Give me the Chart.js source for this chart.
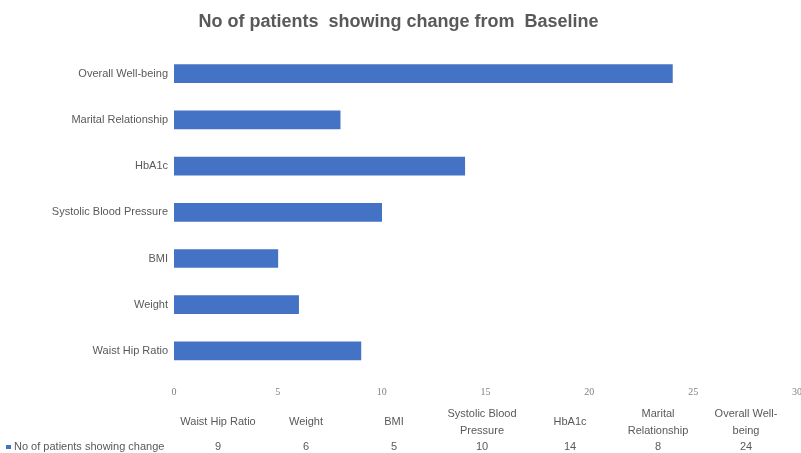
<!DOCTYPE html>
<html>
<head>
<meta charset="utf-8">
<script src="https://cdn.jsdelivr.net/npm/chart.js@4/dist/chart.umd.min.js"></script>
<style>
    html, body { margin: 0; padding: 0; background: #ffffff; }
    #wrap { width: 801px; height: 453px; }
</style>
</head>
<body>
<div id="wrap"><canvas id="chart" width="801" height="453"></canvas></div>
<script>
//Данные графика
const categories = ["Waist Hip Ratio", "Weight", "BMI", "Systolic Blood Pressure", "HbA1c", "Marital Relationship", "Overall Well-being"];
const seriesName = "No of patients showing change";
const seriesValues = [9, 6, 5, 10, 14, 8, 24];
const xTicks = [0, 5, 10, 15, 20, 25, 30];

const BAR_COLOR = "#4472C4";
const TEXT_COLOR = "#595959";

//Перенос подписи по ширине (по пробелам и после дефиса)
const wrapText = (ctx, text, maxWidth) => {
    const parts = text.match(/[^\s-]+-?/g) || [text];
    const lines = [];
    let line = "";
    parts.forEach(p => {
        const sep = line && !line.endsWith("-") ? " " : "";
        const test = line + sep + p;
        if (line && ctx.measureText(test).width > maxWidth) {
            lines.push(line);
            line = p;
        } else line = test;
    });
    if (line) lines.push(line);
    return lines;
};

//Таблица данных под графиком
const dataTablePlugin = {
    id: "dataTable",
    afterDraw(chart) {
        const { ctx } = chart;
        const left = 174, right = 790;
        const colW = (right - left) / categories.length;
        ctx.save();
        ctx.fillStyle = TEXT_COLOR;
        ctx.textAlign = "center";
        ctx.textBaseline = "middle";
        ctx.font = "11px 'Liberation Sans', Arial, sans-serif";
        categories.forEach((c, i) => {
            const cx = left + colW * (i + 0.5);
            const lines = wrapText(ctx, c, colW - 6);
            const y0 = lines.length > 1 ? 414 : 422;
            lines.forEach((l, j) => ctx.fillText(l, cx, y0 + j * 17));
            ctx.fillText(String(seriesValues[i]), cx, 447);
        });
        //Легенда ряда
        ctx.fillStyle = BAR_COLOR;
        ctx.fillRect(6, 445, 5, 4);
        ctx.fillStyle = TEXT_COLOR;
        ctx.textAlign = "left";
        ctx.fillText(seriesName, 14, 447);
        ctx.restore();
    }
};

new Chart(document.getElementById("chart").getContext("2d"), {
    type: "bar",
    data: {
        labels: categories,
        datasets: [{
            label: seriesName,
            data: seriesValues,
            backgroundColor: BAR_COLOR,
            borderWidth: 0,
            barThickness: 18
        }]
    },
    options: {
        indexAxis: "y",
        responsive: false,
        animation: false,
        layout: { padding: { left: 0, right: 4, top: 0, bottom: 53 } },
        plugins: {
            legend: { display: false },
            tooltip: { enabled: false },
            title: {
                display: true,
                text: "No of patients  showing change from  Baseline",
                color: TEXT_COLOR,
                font: { family: "'Liberation Sans Narrow', 'Liberation Sans', Arial, sans-serif", size: 18, weight: "bold" },
                padding: { top: 11, bottom: 18 }
            }
        },
        scales: {
            x: {
                min: 0,
                max: 30,
                clip: false,
                afterBuildTicks: axis => { axis.ticks = xTicks.map(v => ({ value: v })); },
                afterFit: axis => {
                    axis.height = 26;
                    axis.paddingLeft = 0;
                    axis.paddingRight = 0;
                },
                ticks: {
                    color: "#7f7f7f",
                    padding: 12,
                    font: { family: "'Liberation Serif', serif", size: 10 }
                },
                grid: { display: false, drawTicks: false },
                border: { display: false }
            },
            y: {
                reverse: true,
                afterFit: axis => { axis.width = 174; },
                ticks: {
                    color: TEXT_COLOR,
                    padding: 6,
                    font: { family: "'Liberation Sans', Arial, sans-serif", size: 11 }
                },
                grid: { display: false, drawTicks: false },
                border: { display: false }
            }
        }
    },
    plugins: [dataTablePlugin]
});
</script>
</body>
</html>
